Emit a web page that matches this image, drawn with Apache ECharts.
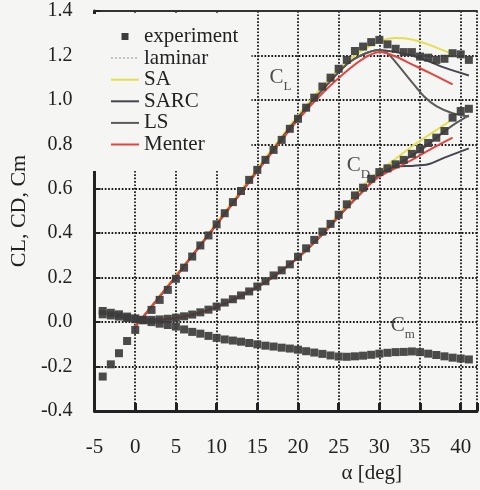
<!DOCTYPE html>
<html>
<head>
<meta charset="utf-8">
<script src="https://cdn.jsdelivr.net/npm/echarts@6/dist/echarts.min.js"></script>
<style>
  html, body { margin: 0; padding: 0; background: #f5f5f3 }
  #chart { width: 480px; height: 490px }
</style>
</head>
<body>
<div id="chart"></div>
<script>
// experiment, one point per degree
const expAlpha = [-4, -3, -2, -1, 0, 1, 2, 3, 4, 5, 6, 7, 8, 9, 10, 11, 12, 13, 14, 15, 16, 17, 18, 19, 20, 21, 22, 23, 24, 25, 26, 27, 28, 29, 30, 31, 32, 33, 34, 35, 36, 37, 38, 39, 40, 41]
const expCL = [-0.245, -0.19, -0.14, -0.085, -0.035, 0.01, 0.055, 0.10, 0.145, 0.195, 0.245, 0.295, 0.345, 0.39, 0.44, 0.49, 0.54, 0.59, 0.64, 0.685, 0.73, 0.775, 0.82, 0.87, 0.915, 0.965, 1.01, 1.06, 1.10, 1.14, 1.18, 1.22, 1.24, 1.26, 1.27, 1.25, 1.23, 1.215, 1.215, 1.195, 1.19, 1.18, 1.185, 1.21, 1.205, 1.18]
const expCD = [0.035, 0.03, 0.025, 0.018, 0.013, 0.01, 0.01, 0.012, 0.015, 0.02, 0.026, 0.034, 0.044, 0.056, 0.07, 0.088, 0.103, 0.12, 0.138, 0.16, 0.184, 0.21, 0.233, 0.26, 0.294, 0.332, 0.37, 0.407, 0.442, 0.483, 0.53, 0.57, 0.605, 0.645, 0.675, 0.692, 0.71, 0.73, 0.757, 0.778, 0.806, 0.83, 0.86, 0.92, 0.95, 0.96]
const expCm = [0.05, 0.042, 0.035, 0.025, 0.017, 0.008, 0.0, -0.007, -0.013, -0.02, -0.033, -0.044, -0.052, -0.062, -0.071, -0.078, -0.083, -0.088, -0.094, -0.1, -0.106, -0.11, -0.115, -0.119, -0.124, -0.131, -0.137, -0.143, -0.15, -0.155, -0.156, -0.154, -0.151, -0.147, -0.142, -0.138, -0.135, -0.134, -0.132, -0.135, -0.142, -0.148, -0.154, -0.16, -0.164, -0.168]

// turbulence models
const laminarAlpha = []
const laminarCL = []
const laminarCD = []

const saAlpha = [0, 4, 8, 12, 16, 20, 23, 26, 28, 30, 32, 34, 36, 38.7]
const saCL = [-0.02, 0.165, 0.35, 0.545, 0.74, 0.93, 1.06, 1.17, 1.225, 1.263, 1.278, 1.272, 1.25, 1.21]
const saCD = [0.012, 0.014, 0.043, 0.1, 0.18, 0.29, 0.4, 0.53, 0.615, 0.68, 0.735, 0.79, 0.84, 0.905]

const sarcAlpha = [0, 4, 8, 12, 16, 20, 23, 26, 28, 30, 32, 34, 36, 38, 41]
const sarcCL = [-0.02, 0.16, 0.345, 0.535, 0.73, 0.92, 1.045, 1.16, 1.205, 1.225, 1.215, 1.2, 1.175, 1.145, 1.11]
const sarcCD = [0.012, 0.014, 0.043, 0.1, 0.18, 0.29, 0.395, 0.515, 0.59, 0.665, 0.698, 0.703, 0.71, 0.74, 0.782]

const lsAlpha = [0, 4, 8, 12, 16, 20, 23, 26, 28, 30, 31, 32, 34, 35.5, 37, 39, 41]
const lsCL = [-0.02, 0.16, 0.345, 0.535, 0.73, 0.92, 1.045, 1.16, 1.205, 1.225, 1.21, 1.17, 1.08, 1.015, 0.972, 0.94, 0.925]
const lsCD = [0.012, 0.014, 0.043, 0.1, 0.18, 0.29, 0.395, 0.515, 0.59, 0.665, 0.685, 0.705, 0.75, 0.785, 0.83, 0.885, 0.93]

const menterAlpha = [0, 4, 8, 12, 16, 20, 23, 26, 28, 30, 32, 34, 36, 39]
const menterCL = [-0.02, 0.16, 0.345, 0.535, 0.725, 0.91, 1.03, 1.13, 1.185, 1.215, 1.195, 1.16, 1.125, 1.07]
const menterCD = [0.012, 0.014, 0.043, 0.1, 0.18, 0.29, 0.395, 0.515, 0.59, 0.655, 0.693, 0.73, 0.772, 0.83]

const legendNames = ['experiment', 'laminar', 'SA', 'SARC', 'LS', 'Menter']
const yTicks = [-0.4, -0.2, 0.0, 0.2, 0.4, 0.6, 0.8, 1.0, 1.2, 1.4]

// curve labels C_L, C_D, C_m (placed in data units)
const curveLabels = [
  { sub: 'L', at: [16.5, 1.09] },
  { sub: 'D', at: [26.0, 0.694] },
  { sub: 'm', at: [31.4, -0.027] }
]

const serif = "'Liberation Serif', 'DejaVu Serif', serif"
const ink = '#222'
const bg = '#f5f5f3'

function zip(xs, ys) {
  return xs.map((x, i) => [x, ys[i]])
}

function expSeries(values) {
  return {
    name: 'experiment',
    type: 'scatter',
    data: zip(expAlpha, values),
    symbol: 'rect',
    symbolSize: 8,
    itemStyle: { color: '#3c3c3c', opacity: 0.92 },
    z: 4
  }
}

function modelSeries(name, xs, ys, color, lineType) {
  return {
    name: name,
    type: 'line',
    data: zip(xs, ys),
    symbol: 'none',
    smooth: 0.3,
    lineStyle: { color: color, width: 2, type: lineType || 'solid' },
    itemStyle: { color: color },
    z: 2
  }
}

const models = [
  ['laminar', laminarAlpha, laminarCL, laminarCD, '#c4c4c4', 'dotted'],
  ['SA', saAlpha, saCL, saCD, '#e6df4e'],
  ['SARC', sarcAlpha, sarcCL, sarcCD, '#45454f'],
  ['LS', lsAlpha, lsCL, lsCD, '#5a5a5a'],
  ['Menter', menterAlpha, menterCL, menterCD, '#e2453f']
]

const series = []
models.forEach(m => {
  series.push(modelSeries(m[0], m[1], m[2], m[4], m[5]))
  series.push(modelSeries(m[0], m[1], m[3], m[4], m[5]))
})
series.push(expSeries(expCL), expSeries(expCD), expSeries(expCm))

series.push({
  name: 'curve-labels',
  type: 'scatter',
  data: curveLabels.map(c => ({ value: c.at, sub: c.sub })),
  symbolSize: 0,
  silent: true,
  label: {
    show: true,
    position: 'right',
    distance: 0,
    formatter: p => '{c|C}{s|' + p.data.sub + '}',
    rich: {
      c: { fontFamily: serif, fontSize: 21, color: ink, verticalAlign: 'bottom', padding: [0, 0, 5, 0] },
      s: { fontFamily: serif, fontSize: 13, color: ink, verticalAlign: 'bottom' }
    }
  },
  z: 5
})

const dotted = { color: '#1a1a1a', width: 1.8, type: [1.7, 1.7] }

const option = {
  backgroundColor: bg,
  animation: false,
  grid: { left: 91, right: 0, top: 11, bottom: 79 },
  legend: {
    data: legendNames.map(n => n === 'experiment'
      ? { name: n, icon: 'path://M0,0M28,14M10.5,3.5L17.5,3.5L17.5,10.5L10.5,10.5Z', itemStyle: { opacity: 1 } }
      : { name: n, itemStyle: { opacity: 0 } }),
    orient: 'vertical',
    left: 93,
    top: 14,
    padding: [12, 13, 16, 17],
    itemWidth: 28,
    itemHeight: 14,
    itemGap: 0.6,
    // same colour as the page, so the grid lines stop at the legend box
    backgroundColor: bg,
    textStyle: { fontFamily: serif, fontSize: 21, lineHeight: 20, color: ink },
    z: 3
  },
  xAxis: [
    {
      type: 'value',
      min: -5,
      max: 42,
      interval: 5,
      name: 'α [deg]',
      nameLocation: 'middle',
      nameGap: 48,
      nameTextStyle: { fontFamily: serif, fontSize: 21, color: ink, padding: [0, 0, 0, 172] },
      axisLine: { show: true, onZero: false, lineStyle: { color: '#222', width: 3 } },
      axisTick: { show: true, inside: true, length: 8, lineStyle: { color: '#222', width: 3 } },
      axisLabel: {
        margin: 26,
        fontFamily: serif,
        fontSize: 21,
        color: ink,
        formatter: v => (v % 5 === 0 ? String(v) : '')
      },
      splitLine: { show: true, lineStyle: dotted }
    },
    {
      type: 'value',
      position: 'top',
      min: -5,
      max: 42,
      interval: 5,
      axisLine: { show: true, onZero: false, lineStyle: { color: '#333', width: 2 } },
      axisTick: { show: false },
      axisLabel: { show: false },
      splitLine: { show: false }
    }
  ],
  yAxis: {
    type: 'value',
    min: yTicks[0],
    max: yTicks[yTicks.length - 1],
    interval: 0.2,
    name: 'CL, CD, Cm',
    nameLocation: 'middle',
    nameGap: 64,
    nameTextStyle: { fontFamily: serif, fontSize: 22, color: ink },
    axisLine: { show: true, onZero: false, lineStyle: { color: '#222', width: 3 } },
    axisTick: { show: true, inside: true, length: 6, lineStyle: { color: '#222', width: 2 } },
    axisLabel: {
      margin: 22,
      fontFamily: serif,
      fontSize: 20,
      color: ink,
      formatter: v => v.toFixed(1)
    },
    splitLine: { show: true, lineStyle: dotted }
  },
  series: series
}

const chart = echarts.init(document.getElementById('chart'), null, { renderer: 'canvas' })
chart.setOption(option)
</script>
</body>
</html>
